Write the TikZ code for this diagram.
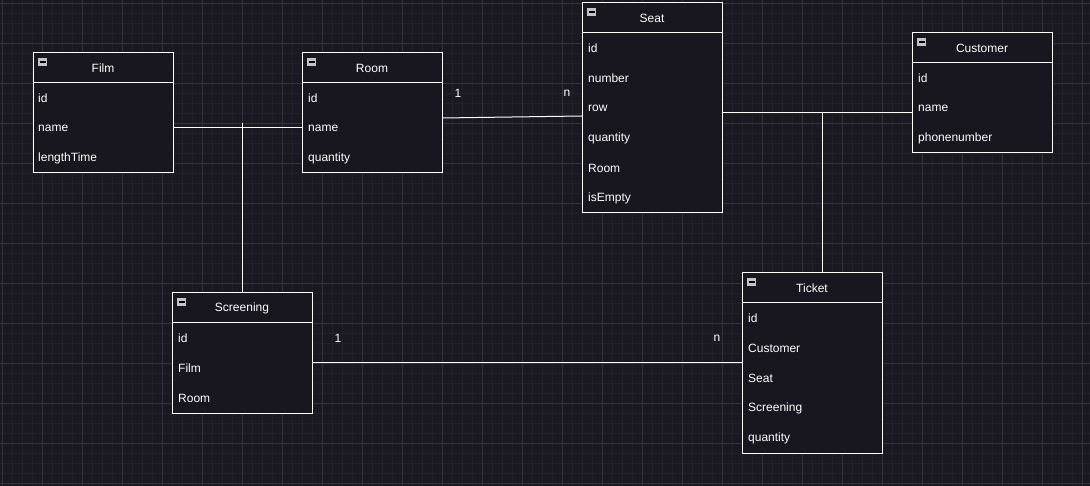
\documentclass[tikz,border=0pt]{standalone}
\usepackage{fontspec}
\setmainfont{Liberation Sans}
\usetikzlibrary{calc}
\definecolor{bgc}{HTML}{1A1820}
\definecolor{gridminor}{HTML}{222028}
\definecolor{gridmajor}{HTML}{35333B}
\definecolor{boxfill}{HTML}{18161E}
\definecolor{iconc}{HTML}{C4C4C8}
\tikzset{
  x=1pt, y=-1pt,
  umlbox/.style={draw=white, line width=1pt, fill=boxfill, anchor=north west, minimum width=140, inner sep=0pt, outer sep=0pt},
  umltitle/.style={text=white, font=\fontsize{12}{14}\selectfont, inner sep=0pt},
  umlfield/.style={text=white, font=\fontsize{12}{14}\selectfont, inner sep=0pt, anchor=west},
  conn/.style={draw=white, line width=1pt},
  mult/.style={text=white, font=\fontsize{12}{14}\selectfont, inner sep=0pt},
}
\newcommand{\hdr}[2]{% name, title
  \draw[white, line width=1pt] ($(#1.north west)+(0,30)$) -- ($(#1.north east)+(0,30)$);
  \fill[iconc] ($(#1.north west)+(5,5)$) rectangle ($(#1.north west)+(14,13)$);
  \draw[black, line width=1.2pt] ($(#1.north west)+(6.5,9)$) -- ($(#1.north west)+(12.5,9)$);
  \node[umltitle] (#1-title) at ($(#1.north)+(0,15)$) {#2};
}
\begin{document}
\begin{tikzpicture}
\useasboundingbox (0,0) rectangle (1090,486);
\fill[bgc] (0,0) rectangle (1090,486);
% grid
\foreach \gx in {2,12,...,1082} {\draw[gridminor, line width=0.6pt] (\gx,0) -- (\gx,486);}
\foreach \gy in {3,13,...,483} {\draw[gridminor, line width=0.6pt] (0,\gy) -- (1090,\gy);}
\foreach \gx in {2,42,...,1082} {\draw[gridmajor, line width=0.8pt] (\gx,0) -- (\gx,486);}
\foreach \gy in {3,43,...,483} {\draw[gridmajor, line width=0.8pt] (0,\gy) -- (1090,\gy);}

% boxes
\node[umlbox, minimum height=120] (film) at (33,53) {};
\node[umlbox, minimum height=120] (room) at (302,53) {};
\node[umlbox, minimum height=210] (seat) at (582,3) {};
\node[umlbox, minimum height=120] (cust) at (912,33) {};
\node[umlbox, minimum height=120] (scr) at (172,293) {};
\node[umlbox, minimum height=180] (tick) at (742,273) {};

\hdr{film}{Film}
\hdr{room}{Room}
\hdr{seat}{Seat}
\hdr{cust}{Customer}
\hdr{scr}{Screening}
\hdr{tick}{Ticket}

% fields
\node[umlfield] (film-id) at (38,98) {id};
\node[umlfield] (film-name) at (38,128) {name};
\node[umlfield] (film-len) at (38,158) {lengthTime};

\node[umlfield] (room-id) at (308,98) {id};
\node[umlfield] (room-name) at (308,128) {name};
\node[umlfield] (room-qty) at (308,158) {quantity};

\node[umlfield] (seat-id) at (588,48) {id};
\node[umlfield] (seat-num) at (588,78) {number};
\node[umlfield] (seat-row) at (588,108) {row};
\node[umlfield] (seat-qty) at (588,138) {quantity};
\node[umlfield] (seat-room) at (588,168) {Room};
\node[umlfield] (seat-empty) at (588,198) {isEmpty};

\node[umlfield] (cust-id) at (918,78) {id};
\node[umlfield] (cust-name) at (918,108) {name};
\node[umlfield] (cust-phone) at (918,138) {phonenumber};

\node[umlfield] (scr-id) at (178,338) {id};
\node[umlfield] (scr-film) at (178,368) {Film};
\node[umlfield] (scr-room) at (178,398) {Room};

\node[umlfield] (tick-id) at (748,318) {id};
\node[umlfield] (tick-cust) at (748,348) {Customer};
\node[umlfield] (tick-seat) at (748,378) {Seat};
\node[umlfield] (tick-scr) at (748,408) {Screening};
\node[umlfield] (tick-qty) at (748,438) {quantity};

% connectors
\coordinate (fr) at (242,128);
\coordinate (frtop) at (242,123);
\draw[conn] (film.east |- fr) -- (room.west |- fr);
\draw[conn] (frtop) -- (scr.north -| frtop);

\draw[conn] (room.east |- 0,118) -- (seat.west |- 0,116);
\node[mult] (m1) at (458,93) {1};
\node[mult] (mn) at (567,93) {n};

\coordinate (sc) at (822,113);
\draw[conn] (seat.east |- sc) -- (cust.west |- sc);
\draw[conn] (sc) -- (tick.north -| sc);

\coordinate (st) at (0,363);
\draw[conn] (scr.east |- st) -- (tick.west |- st);
\node[mult] (m2) at (338,338) {1};
\node[mult] (m3) at (717,338) {n};
\end{tikzpicture}
\end{document}
